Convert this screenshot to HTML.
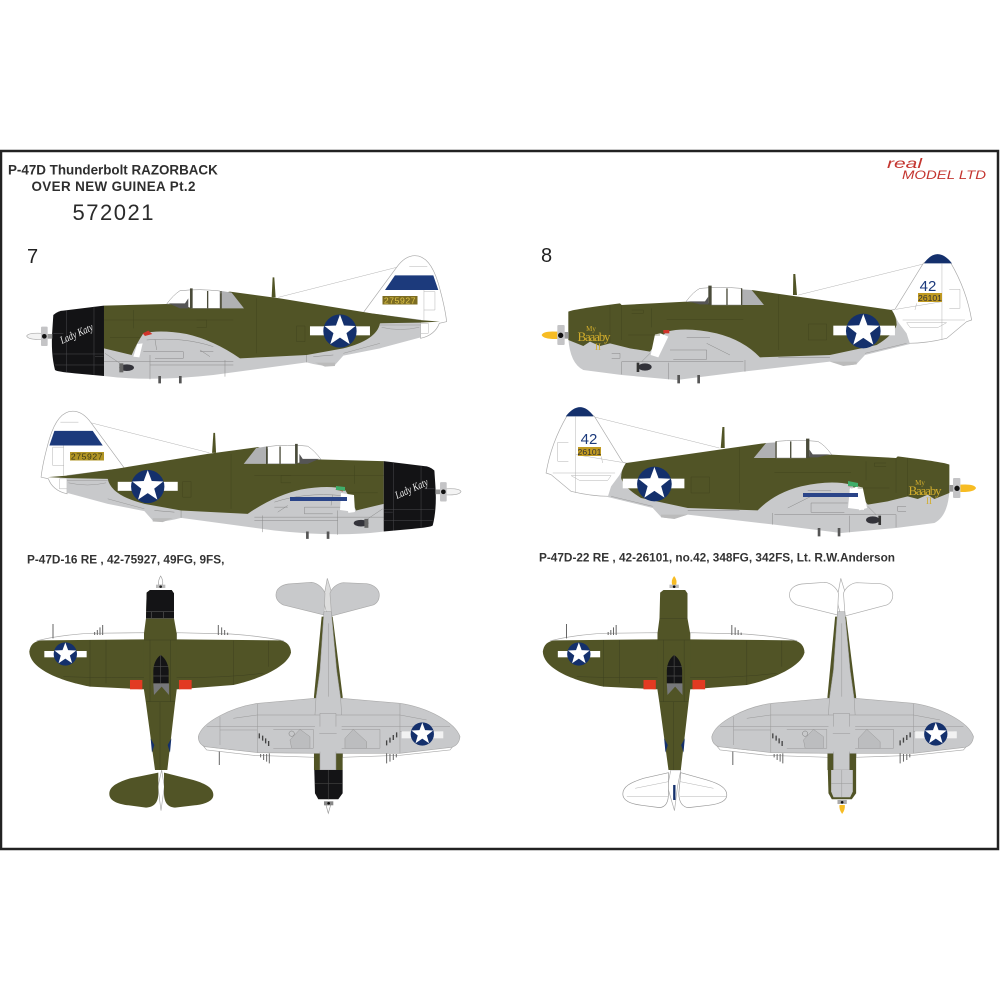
<!DOCTYPE html>
<html><head><meta charset="utf-8"><title>P-47D Thunderbolt Razorback</title>
<style>html,body{margin:0;padding:0;background:#fff}svg{display:block}
text{font-family:"Liberation Sans",sans-serif}
text.sf{font-family:"Liberation Serif",serif}</style></head><body>
<svg xmlns="http://www.w3.org/2000/svg" width="1000" height="1000" viewBox="0 0 1000 1000">
<defs>
<g id="rd"><circle r="1" fill="#14306c"/><polygon fill="#fff" points="0,-.98 .24,-.33 .93,-.30 .39,.125 .58,.79 0,.40 -.58,.79 -.39,.125 -.93,-.30 -.24,-.33"/></g>

<!-- SIDE VIEW 7 (zoom coordinates) -->
<g id="s7">
<path d="M1090 218L1190 82Q1215 47 1245 47Q1290 47 1315 130Q1335 200 1340 245L1318 250Q1305 285 1262 295L1262 240Z" fill="#fff" stroke="#a8a8a8" stroke-width="2"/>
<path d="M1155 150L1185 106H1300L1315 150Z" fill="#1c3a7c"/>
<path d="M835 172L1190 82M1228 80H1282M1272 150V240M1272 155H1305V210H1272M1262 250H1285V280H1262" fill="none" stroke="#b4b4b4" stroke-width="1.5"/>
<path d="M312 320L312 408Q450 426 640 405L920 367Q975 382 1005 375L1030 347L1140 325L1262 292L1262 245L1140 245L1000 320L720 340L560 270L430 270Z" fill="#c8c9cb"/>
<path d="M312 197L500 192L690 155L840 175L1115 220L1258 240L1320 245L1258 248L1140 250Q1130 300 1030 325L920 345L720 355Q640 300 560 282Q480 268 430 280Q410 310 395 345L312 325Z" fill="#515426"/>
<path d="M500 192Q520 165 540 152Q600 146 660 153V205H575L540 192Z" fill="#fff" stroke="#888" stroke-width="1.5"/>
<path d="M665 153L695 158L732 205H665Z" fill="#b0b1b3"/>
<path d="M506 190L555 190L565 175V205H540Z" fill="#555"/>
<path d="M570 145H578V205H570ZM621 153H625V205H621ZM661 153H665V205H661Z" fill="#4a4b3a"/>
<path d="M818 112H823L827 172H815Z" fill="#515426"/>
<path d="M400 350L412 312L428 310L418 352Z" fill="#fff"/>
<path d="M428 280L445 272L457 282L435 288Z" fill="#d0342a"/>
<path d="M400 210V265M770 175V340M312 240H700M330 292H420M890 258H915V305H890ZM590 240H620V262H590" fill="none" stroke="#42451e" stroke-width="1.5"/>
<path d="M312 365H700M450 345V418M675 360V410M920 345V367M440 300Q550 290 640 320M430 335H550V355H465M600 335H640M450 375H700M465 298L470 330M315 340L360 370M940 350L1000 345M600 330L630 350" fill="none" stroke="#8a8a8a" stroke-width="1.5"/>
<path d="M1030 340L1140 310M1140 255H1262M1145 262Q1200 275 1258 262" fill="none" stroke="#999" stroke-width="1.5"/>
<path d="M475 408H483V430H475ZM537 408H545V430H537Z" fill="#555"/>
<ellipse cx="380" cy="383" rx="22" ry="10" fill="#33333a"/><rect x="358" y="370" width="12" height="27" fill="#666"/>
<path d="M945 368H1005V378L975 380Z" fill="#bbb"/>
<path d="M160 225Q175 212 190 212L312 197V408L225 400Q170 395 165 390Q152 340 157 270Z" fill="#131315"/>
<path d="M200 212V398M282 200V405M160 342H312M165 375H312M160 280H190M285 350H310" fill="none" stroke="#4a4a4e" stroke-width="1.5"/>
<path d="M80 288Q85 278 125 280V298Q85 300 80 288Z" fill="#f3f3f3" stroke="#aaa" stroke-width="2"/>
<rect x="123" y="260" width="20" height="58" rx="3" fill="#c4c4c6"/><rect x="143" y="282" width="14" height="14" fill="#999"/>
<circle cx="133" cy="289" r="7" fill="#111"/>
<rect x="930" y="259" width="180" height="27" fill="#fff"/>
<use href="#rd" transform="translate(1020,273) scale(50)"/>
</g>

<!-- SIDE VIEW 8 (zoom coordinates) -->
<g id="s8">
<path d="M1095 208L1180 70Q1220 35 1262 68Q1310 150 1325 240L1310 245L1250 295Q1190 310 1135 310L1085 210Z" fill="#fff" stroke="#aaa" stroke-width="2"/>
<path d="M1182 70Q1222 15 1266 70Z" fill="#14306c"/>
<path d="M805 165L1180 72M1236 70V300M1258 148H1290V205H1258M1118 240H1305M1130 248H1250L1225 262H1140ZM1160 190L1155 210M1098 208L1236 185" fill="none" stroke="#b4b4b4" stroke-width="1.5"/>
<path d="M115 295Q120 370 160 390L275 405L440 420L640 395L900 365Q950 382 980 372L1005 345L1140 312L1130 280L1100 240L900 335L690 340L560 265L410 260L300 300Z" fill="#c8c9cb"/>
<path d="M115 215Q125 208 270 190L275 195L470 185L665 150L1085 210Q1100 230 1100 255Q1090 285 1040 315L900 345L690 352Q640 300 560 280Q470 260 410 275Q385 300 360 335L300 325L240 310L210 318L180 305L160 318L115 300Z" fill="#515426"/>
<path d="M468 185Q490 155 510 145Q570 140 635 145V195H545L530 188Z" fill="#fff" stroke="#888" stroke-width="1.5"/>
<path d="M635 148L665 150L702 195H635Z" fill="#b0b1b3"/>
<path d="M474 184L525 184L535 170V193H510Z" fill="#555"/>
<path d="M535 137H545V195H535ZM589 145H593V195H589ZM633 145H637V195H633Z" fill="#4a4b3a"/>
<path d="M790 102H796L801 165H789Z" fill="#515426"/>
<path d="M362 345L375 283L392 280L415 290L385 352Z" fill="#fff"/>
<path d="M400 270H418V280H400Z" fill="#d0342a"/>
<path d="M365 205V262M240 195V310M275 195V300M745 165V330M410 238H640M305 210H340V220H305M835 252H890V300H835ZM295 285H390" fill="none" stroke="#42451e" stroke-width="1.5"/>
<path d="M275 365H640M275 365V403M645 360V395M415 368V418M420 330H530V358H430M470 292H540M530 310L600 345M745 352H900M360 340L335 365M245 340H270V355H245" fill="none" stroke="#8a8a8a" stroke-width="1.5"/>
<path d="M1005 340L1130 310" fill="none" stroke="#999" stroke-width="1.5"/>
<path d="M442 405H450V430H442ZM502 405H510V430H502Z" fill="#555"/>
<ellipse cx="345" cy="381" rx="20" ry="11" fill="#33333a"/><rect x="320" y="368" width="8" height="28" fill="#333"/>
<path d="M900 365H980V373L940 378Z" fill="#bbb"/>
<path d="M35 285Q40 272 82 275V297Q40 298 35 285Z" fill="#f7bc23"/>
<rect x="82" y="255" width="22" height="60" rx="3" fill="#c4c4c6"/><rect x="104" y="276" width="12" height="20" fill="#999"/>
<circle cx="92" cy="286" r="8" fill="#111"/>
<rect x="910" y="257" width="185" height="29" fill="#fff"/>
<use href="#rd" transform="translate(1000,273) scale(52)"/>
</g>

<!-- TOP VIEW base -->
<g id="plan">
<path d="M52 212Q120 195 210 190L375 188V215H60Z" fill="#fff" stroke="#aaa" stroke-width="2"/>
<path d="M470 188L632 192Q720 198 790 212V215H470Z" fill="#fff" stroke="#aaa" stroke-width="2"/>
<path d="M28 245C30 225 42 213 65 211L375 208H470L780 211C802 214 813 230 813 248C805 285 730 325 640 345L470 358H375L210 350C130 335 30 300 28 245Z" fill="#515426"/>
<path d="M378 145L372 190V360L378 400L405 600H442L465 400L470 360V190L462 145L462 70L455 60H390L380 68Z" fill="#515426"/>
<path d="M210 210V350M640 212V345M258 210V340M745 212V290M130 320Q300 325 372 322M470 322Q600 325 730 310M378 145H462M378 395H465M372 210H470M390 210V395M452 210V395M420 395V600" fill="none" stroke="#3e4120" stroke-width="1.5"/>
<path d="M400 340V300Q402 270 422 255Q443 270 446 300V340Z" fill="#141416"/>
<path d="M400 340H447V375L425 350L402 375Z" fill="#77787a"/>
<path d="M422 255V340M400 290H446M400 318H446" stroke="#4a4a4a" stroke-width="2"/>
<rect x="330" y="330" width="37" height="28" fill="#e23a22"/><rect x="477" y="330" width="38" height="28" fill="#e23a22"/>
<path d="M392 505L403 525L396 548ZM454 505L443 525L450 548Z" fill="#14306c"/>
<path d="M99 162V205M248 165V195M240 172V195M232 180V195M224 186V195M595 165V195M605 172V195M614 180V195M623 188V195" stroke="#666" stroke-width="3"/>
<rect x="73" y="243" width="127" height="19" fill="#fff"/>
<use href="#rd" transform="translate(136,252) scale(35)"/>
</g>

<!-- BELLY VIEW base -->
<g id="belly">
<path d="M550 528Q700 552 885 548V562L700 556L560 540ZM1300 528Q1150 552 968 548V562L1140 556L1290 540Z" fill="#fff" stroke="#aaa" stroke-width="2"/>
<path d="M905 140L882 380V600H968V380L938 140Z" fill="#515426"/>
<path d="M535 500C545 455 640 410 715 400L885 385H965L1140 400C1220 412 1305 455 1320 500C1318 520 1308 528 1295 532L1140 550H885L715 548L555 530C542 525 535 515 535 500Z" fill="#c8c9cb" stroke="#aaa" stroke-width="2"/>
<path d="M912 125H934L950 300L962 385L965 435H885L888 385L900 300Z" fill="#c8c9cb" stroke="#999" stroke-width="1.5"/>
<path d="M900 430H948V600H900Z" fill="#c8c9cb" stroke="#999" stroke-width="1.5"/>
<path d="M885 470H965V545H885Z" fill="#c8c9cb"/>
<path d="M712 402V548M1140 402V550M600 440V525M560 470H885M965 470H1290M600 480H712M1140 485H1260M885 435H712L640 445M965 435H1140L1220 450M760 478H880V535H760M965 478H1080V535H965M898 490H950M925 160V380" fill="none" stroke="#999" stroke-width="1.5"/>
<path d="M840 478L870 500V535H815L810 510ZM1000 478L975 505V535H1040V515Z" fill="#bcbdbf" stroke="#999" stroke-width="1.5"/>
<circle cx="815" cy="491" r="8" fill="none" stroke="#777" stroke-width="1.5"/>
<path d="M718 490V505M728 497V512M737 505V520M746 513V528M1130 487V502M1120 495V510M1110 503V518M1100 511V526" stroke="#444" stroke-width="4"/>
<path d="M598 545V585M748 550V580M740 552V575M731 552V570M722 552V562M1100 550V580M1110 552V575M1120 552V570M1129 552V562" stroke="#666" stroke-width="3"/>
<rect x="1145" y="484" width="125" height="21" fill="#f2f2f2"/>
<use href="#rd" transform="translate(1207,492) scale(35)"/>
</g>
</defs>

<rect x="1" y="151" width="997" height="698" fill="#fff" stroke="#222" stroke-width="2.5"/>

<!-- Header text -->
<text x="8" y="174.5" font-size="13.4" font-weight="700" fill="#2e2e2e">P-47D Thunderbolt RAZORBACK</text>
<text x="31.5" y="191" font-size="13.4" font-weight="700" fill="#2e2e2e" textLength="164">OVER NEW GUINEA Pt.2</text>
<text x="72.5" y="220" font-size="22" fill="#2a2a2a" textLength="81">572021</text>
<text x="27" y="263" font-size="20" fill="#222">7</text>
<text x="541" y="262" font-size="20" fill="#222">8</text>
<text x="887" y="168" font-size="14" font-style="italic" fill="#c4352f" textLength="35" lengthAdjust="spacingAndGlyphs">real</text>
<text x="902" y="179" font-size="12" font-style="italic" fill="#c4352f" textLength="84" lengthAdjust="spacingAndGlyphs">MODEL LTD</text>
<text x="27" y="563.5" font-size="11.8" font-weight="700" fill="#333">P-47D-16 RE , 42-75927, 49FG, 9FS,</text>
<text x="539" y="561.5" font-size="11.8" font-weight="700" fill="#333">P-47D-22 RE , 42-26101, no.42, 348FG, 342FS, Lt. R.W.Anderson</text>

<!-- Side views -->
<use href="#s7" transform="translate(0,240) scale(.3333)"/>
<use href="#s7" transform="translate(487.7,155.5) scale(-1,1) translate(0,240) scale(.3333)"/>
<use href="#s8" transform="translate(530,240) scale(.3333)"/>
<use href="#s8" transform="translate(1517.7,153) scale(-1,1) translate(530,240) scale(.3333)"/>

<!-- lower-view wing markings -->
<path d="M341 493L354 495L355 512L340 510Z" fill="#fff"/>
<path d="M290 497H347V501H290Z" fill="#2a4488"/>
<path d="M336 486L345 487L345 491L336 490Z" fill="#3fae6a"/>
<path d="M850 488L862 492L864 510L848 508Z" fill="#fff"/>
<path d="M803 493H858V497H803Z" fill="#2a4488"/>
<path d="M848 481L858 483L858 487L848 486Z" fill="#3fae6a"/>

<!-- Serials and nose art -->
<rect x="382.5" y="296" width="35" height="8.5" fill="#7d6d22"/>
<text x="400" y="303.3" font-size="8.6" fill="#e0c548" text-anchor="middle" letter-spacing=".6">275927</text>
<rect x="70" y="452" width="34" height="8.5" fill="#b19525"/>
<text x="87" y="459.5" font-size="8.6" fill="#3c3a18" text-anchor="middle" letter-spacing=".6">275927</text>
<text x="928" y="291" font-size="15" fill="#1c3a7c" text-anchor="middle">42</text>
<rect x="918" y="293" width="24" height="9" fill="#c09a22"/>
<text x="930" y="301" font-size="8.6" fill="#333" text-anchor="middle">26101</text>
<text x="589" y="444" font-size="15" fill="#1c3a7c" text-anchor="middle">42</text>
<rect x="578" y="447" width="23" height="9" fill="#c09a22"/>
<text x="589.5" y="455" font-size="8.6" fill="#333" text-anchor="middle">26101</text>
<text class="sf" transform="translate(62,344) rotate(-24)" font-size="11" font-style="italic" fill="#eee" textLength="35" lengthAdjust="spacingAndGlyphs">Lady Katy</text>
<text class="sf" transform="translate(397,499) rotate(-24)" font-size="11" font-style="italic" fill="#eee" textLength="35" lengthAdjust="spacingAndGlyphs">Lady Katy</text>
<g fill="#d2ad2c" text-anchor="middle">
<text class="sf" x="591" y="331" font-size="7">My</text><text class="sf" x="594" y="341" font-size="13" textLength="33">Baaaby</text><text class="sf" x="598" y="350" font-size="9">II</text>
<text class="sf" x="920" y="485" font-size="7">My</text><text class="sf" x="925" y="495" font-size="13" textLength="33">Baaaby</text><text class="sf" x="929" y="504" font-size="9">II</text>
</g>

<!-- Plan views 7 -->
<g transform="translate(20,570) scale(.3333)">
<path d="M425 600L414 650L423 722L433 650Z" fill="#fff" stroke="#aaa" stroke-width="2"/>
<path d="M415 608L330 625C290 638 268 650 268 672C268 695 300 703 325 706L378 713C400 712 415 700 415 670Z" fill="#515426"/>
<path d="M432 608L520 630C560 642 580 655 580 675C580 695 550 703 525 706L465 713C445 712 432 700 432 670Z" fill="#515426"/>
<use href="#plan"/>
<path d="M380 68L390 60H455L462 70V145H378Z" fill="#141416"/>
<path d="M378 125H462M378 145H462M395 125V145M430 125V145" stroke="#555" stroke-width="2"/>
<path d="M422 18Q430 30 428 45H416Q414 30 422 18Z" fill="#fff" stroke="#999" stroke-width="2"/><rect x="408" y="44" width="28" height="10" fill="#bbb"/><circle cx="422" cy="50" r="4" fill="#222"/>
</g>
<g transform="translate(20,570) scale(.3333)">
<path d="M922 25L910 90L920 130H935L942 90Z" fill="#ddd" stroke="#aaa" stroke-width="2"/>
<path d="M768 75C768 55 785 45 805 42L875 37C895 40 910 55 915 70L912 135L790 105C775 97 768 88 768 75Z" fill="#c8c9cb" stroke="#aaa" stroke-width="2"/>
<path d="M930 70C935 55 950 40 970 38L1040 41C1062 44 1078 58 1078 75C1078 90 1070 100 1060 105L935 138Z" fill="#c8c9cb" stroke="#aaa" stroke-width="2"/>
<use href="#belly"/>
<path d="M883 600H968V670L955 688H895L885 670Z" fill="#141416"/>
<path d="M925 600V688M885 640H968" stroke="#444" stroke-width="2"/>
<path d="M925 730L918 705H932Z" fill="#fff" stroke="#999" stroke-width="2"/><rect x="912" y="694" width="28" height="12" fill="#888"/><circle cx="926" cy="700" r="4" fill="#111"/>
</g>

<!-- Plan views 8 -->
<g transform="translate(533.5,570) scale(.3333)">
<path d="M412 600L402 650L423 722L432 650L442 600Z" fill="#fff" stroke="#aaa" stroke-width="2"/>
<path d="M405 608L330 625C290 638 268 650 268 672C268 695 300 703 325 706L378 713C395 712 405 700 405 670Z" fill="#fff" stroke="#999" stroke-width="2"/>
<path d="M442 608L520 630C560 642 580 655 580 675C580 695 550 703 525 706L465 713C450 712 436 700 436 670Z" fill="#fff" stroke="#999" stroke-width="2"/>
<path d="M280 680H405M440 680H580M305 655L405 635M540 655L440 635" stroke="#b4b4b4" stroke-width="1.5" fill="none"/>
<rect x="419" y="645" width="7" height="45" fill="#14306c"/>
<use href="#plan"/>
<path d="M422 18Q432 30 428 45H416Q412 30 422 18Z" fill="#f7bc23"/><rect x="408" y="44" width="28" height="10" fill="#bbb"/><circle cx="422" cy="50" r="4" fill="#111"/>
</g>
<g transform="translate(533.5,570) scale(.3333)">
<path d="M922 25L910 90L920 130H935L942 90Z" fill="#fff" stroke="#aaa" stroke-width="2"/>
<path d="M768 75C768 55 785 45 805 42L875 37C895 40 910 55 915 70L912 135L790 105C775 97 768 88 768 75Z" fill="#fff" stroke="#aaa" stroke-width="2"/>
<path d="M930 70C935 55 950 40 970 38L1040 41C1062 44 1078 58 1078 75C1078 90 1070 100 1060 105L935 138Z" fill="#fff" stroke="#aaa" stroke-width="2"/>
<use href="#belly"/>
<path d="M883 600H968V670L955 688H895L885 670Z" fill="#515426"/>
<path d="M893 600H958V665L950 682H900L893 665Z" fill="#c8c9cb"/>
<path d="M925 600V682M893 640H958" stroke="#999" stroke-width="1.5"/>
<path d="M926 732Q916 718 918 705H934Q936 718 926 732Z" fill="#f7bc23"/><rect x="912" y="690" width="28" height="12" fill="#aaa"/><circle cx="926" cy="697" r="4" fill="#111"/>
</g>
</svg>
</body></html>
